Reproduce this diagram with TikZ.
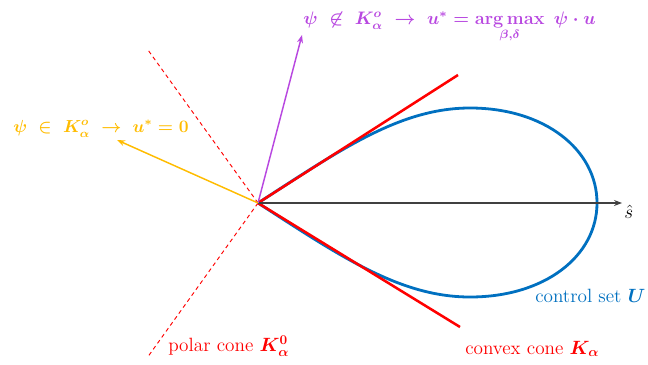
\documentclass[tikz,border=0pt]{standalone}
\usepackage{graphicx}
\usepackage{amsmath,amssymb}
\usetikzlibrary{arrows.meta}
\definecolor{cblue}{RGB}{0,112,192}
\definecolor{cred}{RGB}{255,0,0}
\definecolor{cpurp}{RGB}{184,72,224}
\definecolor{corange}{RGB}{255,188,0}
\tikzset{
  conel/.style={cred, line width=1.9pt},
  polarl/.style={cred, line width=0.7pt, dash pattern=on 3pt off 2.5pt},
  vecp/.style={cpurp, line width=1.1pt, -{Stealth[length=6pt,width=4.5pt]}},
  veco/.style={corange, line width=1.1pt, -{Stealth[length=6pt,width=4.5pt]}},
  axisl/.style={black!75, line width=0.8pt, -{Stealth[length=6pt,width=4.5pt]}},
  setl/.style={cblue, line width=2.1pt},
  lbl/.style={inner sep=0pt, font=\fontsize{14.4}{16}\selectfont},
}
\newsavebox\purplab
\newsavebox\orangelab
\begin{document}
\sbox\purplab{\scalebox{1.13}{\color{cpurp}\fontsize{12}{14}\selectfont\boldmath$\psi\ \not\in\ K_\alpha^o\ \rightarrow\ u^{*} = \mathop{\mathbf{arg\,max}}\limits_{\beta,\delta}\ \psi\cdot u$}}%
\sbox\orangelab{\scalebox{1.09}{\color{corange}\fontsize{12}{14}\selectfont\boldmath$\psi\ \in\ K_\alpha^o\ \rightarrow\ u^{*} = 0$}}%
\begin{tikzpicture}[x=0.75pt,y=-0.75pt]
\useasboundingbox (0,0) rectangle (648,364);
\coordinate (O) at (258,203);
\coordinate (S) at (622,203);
\coordinate (Cu) at (458,75);
\coordinate (Cl) at (460,327);
\coordinate (Pu) at (148,50);
\coordinate (Pl) at (147,358);
\coordinate (Vp) at (302,35);
\coordinate (Vo) at (117,140);
% control set
\draw[setl] (O) .. controls (340,150) and (400,108) .. (470,108)
  .. controls (545,108) and (597,150) .. (597,203)
  .. controls (597,256) and (545,297) .. (470,297)
  .. controls (400,297) and (340,256) .. (O);
% cones
\draw[conel] (O) -- (Cu);
\draw[conel] (O) -- (Cl);
\draw[polarl] (O) -- (Pu);
\draw[polarl] (O) -- (Pl);
% axis and vectors
\draw[axisl] (O) -- (S);
\draw[vecp] (O) -- (Vp);
\draw[veco] (O) -- (Vo);
% labels
\node[lbl, anchor=west] (sh) at (624,212) {$\hat{s}$};
\node[lbl, anchor=base west] (tp) at (303,24) {\usebox\purplab};
\node[lbl, anchor=base west] (to) at (13,132) {\usebox\orangelab};
\node[lbl, anchor=base west, text=cblue] (tu) at (535,302) {control set $\boldsymbol{U}$};
\node[lbl, anchor=base west, text=cred] (tk) at (465,354) {convex cone $\boldsymbol{K_\alpha}$};
\node[lbl, anchor=base west, text=cred] (tq) at (168,351) {polar cone $\boldsymbol{K_\alpha^0}$};
\end{tikzpicture}
\end{document}
